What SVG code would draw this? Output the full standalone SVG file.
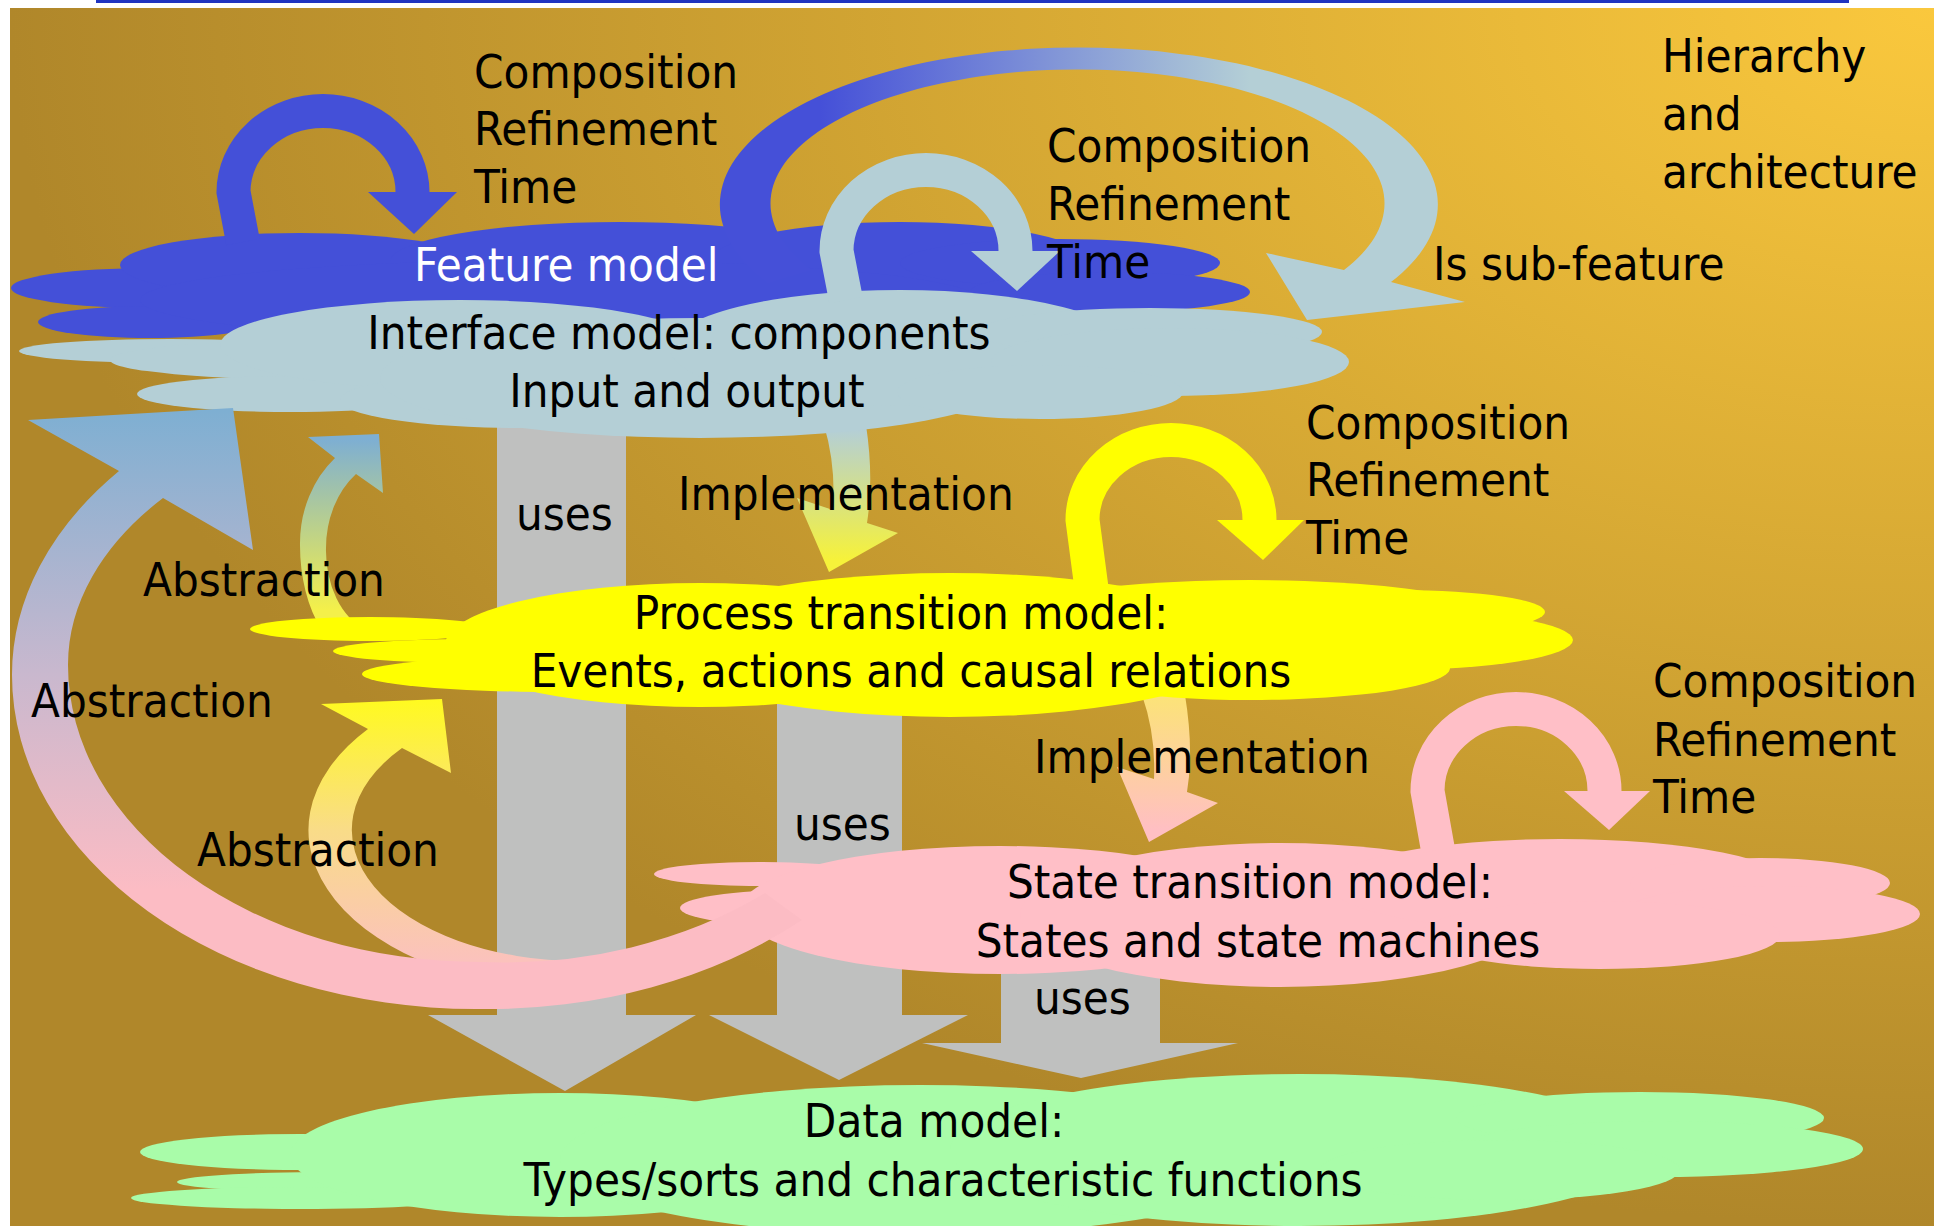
<svg xmlns="http://www.w3.org/2000/svg" width="1934" height="1226" viewBox="0 0 1934 1226">
  <defs>
    <radialGradient id="bgGrad" cx="1" cy="0" r="1" fx="1" fy="0">
      <stop offset="0" stop-color="#FAC83D"/>
      <stop offset="1" stop-color="#B0872A"/>
    </radialGradient>
    <linearGradient id="gSub" gradientUnits="userSpaceOnUse" x1="820" y1="0" x2="1250" y2="0">
      <stop offset="0" stop-color="#4550D8"/>
      <stop offset="1" stop-color="#B4CFD6"/>
    </linearGradient>
    <linearGradient id="gImpl1" gradientUnits="userSpaceOnUse" x1="0" y1="430" x2="0" y2="560">
      <stop offset="0" stop-color="#B4CFD6"/>
      <stop offset="1" stop-color="#F6F23A"/>
    </linearGradient>
    <linearGradient id="gImpl2" gradientUnits="userSpaceOnUse" x1="0" y1="700" x2="0" y2="830">
      <stop offset="0" stop-color="#FCE27A"/>
      <stop offset="1" stop-color="#FFBFC3"/>
    </linearGradient>
    <linearGradient id="gAbs1" gradientUnits="userSpaceOnUse" x1="0" y1="440" x2="0" y2="610">
      <stop offset="0" stop-color="#7EAFD2"/>
      <stop offset="1" stop-color="#F4F04A"/>
    </linearGradient>
    <linearGradient id="gAbs2" gradientUnits="userSpaceOnUse" x1="0" y1="410" x2="0" y2="890">
      <stop offset="0" stop-color="#7EAFD2"/>
      <stop offset="0.55" stop-color="#C9B8CE"/>
      <stop offset="1" stop-color="#FCBCC4"/>
    </linearGradient>
    <linearGradient id="gAbs3" gradientUnits="userSpaceOnUse" x1="0" y1="700" x2="0" y2="960">
      <stop offset="0" stop-color="#FFFA20"/>
      <stop offset="0.5" stop-color="#F9DC88"/>
      <stop offset="1" stop-color="#FBC2BC"/>
    </linearGradient>
  </defs>
  <style>
    .txt { font-family: "DejaVu Sans Condensed", "DejaVu Sans", sans-serif; font-stretch: condensed; font-size: 47px; fill: #000000; }
    .mid { text-anchor: middle; }
    .white { fill: #FFFFFF; }
    .uses { fill: #BFC0BF; }
    .feature { fill: #4450D8; }
    .iface { fill: #B4CFD6; }
    .process { fill: #FFFF00; }
    .state { fill: #FFBFC7; }
    .data { fill: #A9FCA9; }
    .loop { fill: none; stroke-width: 34; }
  </style>

  <!-- canvas -->
  <rect x="0" y="0" width="1934" height="1226" fill="#FFFFFF"/>
  <rect x="10" y="8" width="1924" height="1218" fill="url(#bgGrad)"/>
  <rect x="96" y="0" width="1753" height="3" fill="#2034C0"/>

  <!-- connectors that sit behind the clouds -->
  <g id="connectors-back">
    <polygon class="uses" points="497,410 626,410 626,1015 696,1015 565,1091 428,1015 497,1015"/>
    <polygon class="uses" points="777,680 902,680 902,1015 968,1015 839,1080 709,1015 777,1015"/>
    <polygon class="uses" points="1001,950 1160,950 1160,1043 1238,1043 1081,1078 922,1043 1001,1043"/>
    <path fill="url(#gImpl1)" d="M 824 425 L 866 425 Q 874 478 867 523 L 898 533 L 829 572 L 797 498 L 833 510 Q 836 465 824 425 Z"/>
    <path fill="url(#gImpl2)" d="M 1142 695 L 1185 695 Q 1194 750 1187 792 L 1218 803 L 1149 842 L 1117 767 L 1154 779 Q 1156 735 1142 695 Z"/>
    <path fill="url(#gAbs1)" d="M 322 630 A 60 110 0 0 1 300 543 A 100 112 0 0 1 335 458 L 308 437 L 379 434 L 383 493 L 356 474 A 74 92 0 0 0 326 548 A 60 84 0 0 0 366 630 Z"/>
  </g>

  <!-- Feature model -->
  <g id="feature-model">
    <g class="feature">
      <ellipse cx="150" cy="288" rx="139" ry="20"/>
      <ellipse cx="150" cy="322" rx="112" ry="16"/>
      <ellipse cx="300" cy="265" rx="180" ry="32"/>
      <ellipse cx="620" cy="262" rx="230" ry="40"/>
      <ellipse cx="900" cy="262" rx="190" ry="40"/>
      <ellipse cx="1060" cy="263" rx="160" ry="24"/>
      <ellipse cx="1110" cy="292" rx="140" ry="20"/>
      <ellipse cx="560" cy="300" rx="420" ry="40"/>
    </g>
    <text class="txt white" x="414" y="281">Feature model</text>
  </g>

  <!-- Interface model -->
  <g id="interface-model">
    <g class="iface">
      <ellipse cx="170" cy="351" rx="151" ry="12"/>
      <ellipse cx="330" cy="360" rx="220" ry="20"/>
      <ellipse cx="290" cy="394" rx="153" ry="18"/>
      <ellipse cx="460" cy="345" rx="240" ry="45"/>
      <ellipse cx="520" cy="400" rx="180" ry="28"/>
      <ellipse cx="700" cy="378" rx="320" ry="60"/>
      <ellipse cx="900" cy="348" rx="230" ry="58"/>
      <ellipse cx="1150" cy="332" rx="172" ry="24"/>
      <ellipse cx="1170" cy="362" rx="179" ry="34"/>
      <ellipse cx="1040" cy="392" rx="143" ry="27"/>
    </g>
    <text class="txt mid" x="679" y="349">Interface model: components</text>
    <text class="txt mid" x="687" y="407">Input and output</text>
  </g>

  <!-- Process transition model -->
  <g id="process-model">
    <g class="process">
      <ellipse cx="370" cy="629" rx="120" ry="12"/>
      <ellipse cx="470" cy="651" rx="137" ry="12"/>
      <ellipse cx="560" cy="674" rx="198" ry="18"/>
      <ellipse cx="700" cy="645" rx="255" ry="62"/>
      <ellipse cx="950" cy="645" rx="300" ry="72"/>
      <ellipse cx="1250" cy="630" rx="280" ry="50"/>
      <ellipse cx="1400" cy="612" rx="145" ry="22"/>
      <ellipse cx="1390" cy="640" rx="183" ry="30"/>
      <ellipse cx="1250" cy="668" rx="200" ry="32"/>
    </g>
    <text class="txt mid" x="901" y="629">Process transition model:</text>
    <text class="txt mid" x="911" y="687">Events, actions and causal relations</text>
  </g>

  <!-- State transition model -->
  <g id="state-model">
    <g class="state">
      <ellipse cx="760" cy="874" rx="106" ry="12"/>
      <ellipse cx="800" cy="908" rx="120" ry="18"/>
      <ellipse cx="1000" cy="910" rx="260" ry="64"/>
      <ellipse cx="1280" cy="915" rx="260" ry="72"/>
      <ellipse cx="1560" cy="885" rx="230" ry="46"/>
      <ellipse cx="1760" cy="883" rx="130" ry="25"/>
      <ellipse cx="1770" cy="914" rx="150" ry="28"/>
      <ellipse cx="1600" cy="935" rx="180" ry="34"/>
    </g>
    <text class="txt mid" x="1250" y="898">State transition model:</text>
    <text class="txt mid" x="1258" y="957">States and state machines</text>
  </g>

  <!-- Data model -->
  <g id="data-model">
    <g class="data">
      <ellipse cx="300" cy="1152" rx="160" ry="18"/>
      <ellipse cx="330" cy="1182" rx="153" ry="10"/>
      <ellipse cx="300" cy="1198" rx="169" ry="11"/>
      <ellipse cx="560" cy="1155" rx="270" ry="62"/>
      <ellipse cx="920" cy="1160" rx="360" ry="75"/>
      <ellipse cx="1300" cy="1150" rx="350" ry="76"/>
      <ellipse cx="1640" cy="1118" rx="184" ry="26"/>
      <ellipse cx="1660" cy="1149" rx="203" ry="28"/>
      <ellipse cx="1500" cy="1170" rx="180" ry="30"/>
    </g>
    <text class="txt mid" x="934" y="1137">Data model:</text>
    <text class="txt mid" x="943" y="1196">Types/sorts and characteristic functions</text>
  </g>

  <!-- connectors drawn over the clouds -->
  <g id="connectors-front">
    <!-- self loops: composition / refinement / time -->
    <path class="loop" stroke="#4450D8" d="M 243 242 L 233.5 192 A 89.5 81 0 0 1 412.5 192"/>
    <polygon fill="#4450D8" points="368,192 457,192 414,234"/>
    <path class="loop" stroke="#B4CFD6" d="M 846 300 L 836.5 251 A 89.5 81 0 0 1 1015.5 251"/>
    <polygon fill="#B4CFD6" points="971,251 1060,251 1017,291"/>
    <path class="loop" stroke="#FFFF00" d="M 1092 592 L 1082.5 520 A 88.5 80 0 0 1 1259.5 520"/>
    <polygon fill="#FFFF00" points="1217,520 1304,520 1263,560"/>
    <path class="loop" stroke="#FFBFC7" d="M 1438 850 L 1427.5 791 A 88.5 82 0 0 1 1604.5 791"/>
    <polygon fill="#FFBFC7" points="1564,791 1650,791 1609,830"/>
    <!-- is sub-feature -->
    <path fill="url(#gSub)" d="M 768 283 A 359 157 0 1 1 1391 282 L 1465 302 L 1307 320 L 1266 253 L 1344 270 A 307 134 0 1 0 811 270 Z"/>
    <!-- abstraction: state to process -->
    <path fill="url(#gAbs3)" d="M 580 992 A 273 162 0 0 1 368 729 L 321 704 L 442 699 L 451 773 L 402 748 A 228 131 0 0 0 580 961 Z"/>
    <!-- abstraction: state to interface -->
    <path fill="url(#gAbs2)" d="M 802 920 A 464 334 0 0 1 476 1009 A 464 334 0 0 1 12 675 A 464 319 0 0 1 119 471 L 28 420 L 233 408 L 253 550 L 163 498 A 412 261 0 0 0 68 665 A 412 297 0 0 0 480 962 A 412 305 0 0 0 765 893 Z"/>
  </g>

  <!-- connector labels -->
  <g id="labels">
    <text class="txt" x="474" y="88">Composition</text>
    <text class="txt" x="474" y="145">Refinement</text>
    <text class="txt" x="474" y="203">Time</text>

    <text class="txt" x="1047" y="162">Composition</text>
    <text class="txt" x="1047" y="220">Refinement</text>
    <text class="txt" x="1047" y="278">Time</text>

    <text class="txt" x="1662" y="72">Hierarchy</text>
    <text class="txt" x="1662" y="130">and</text>
    <text class="txt" x="1662" y="188">architecture</text>

    <text class="txt" x="1433" y="280">Is sub-feature</text>

    <text class="txt" x="516" y="530">uses</text>
    <text class="txt" x="678" y="510">Implementation</text>

    <text class="txt" x="1306" y="439">Composition</text>
    <text class="txt" x="1306" y="496">Refinement</text>
    <text class="txt" x="1306" y="554">Time</text>

    <text class="txt" x="143" y="596">Abstraction</text>
    <text class="txt" x="31" y="717">Abstraction</text>
    <text class="txt" x="197" y="866">Abstraction</text>

    <text class="txt" x="1034" y="773">Implementation</text>
    <text class="txt" x="794" y="840">uses</text>

    <text class="txt" x="1653" y="697">Composition</text>
    <text class="txt" x="1653" y="756">Refinement</text>
    <text class="txt" x="1653" y="813">Time</text>

    <text class="txt" x="1034" y="1014">uses</text>
  </g>
</svg>
